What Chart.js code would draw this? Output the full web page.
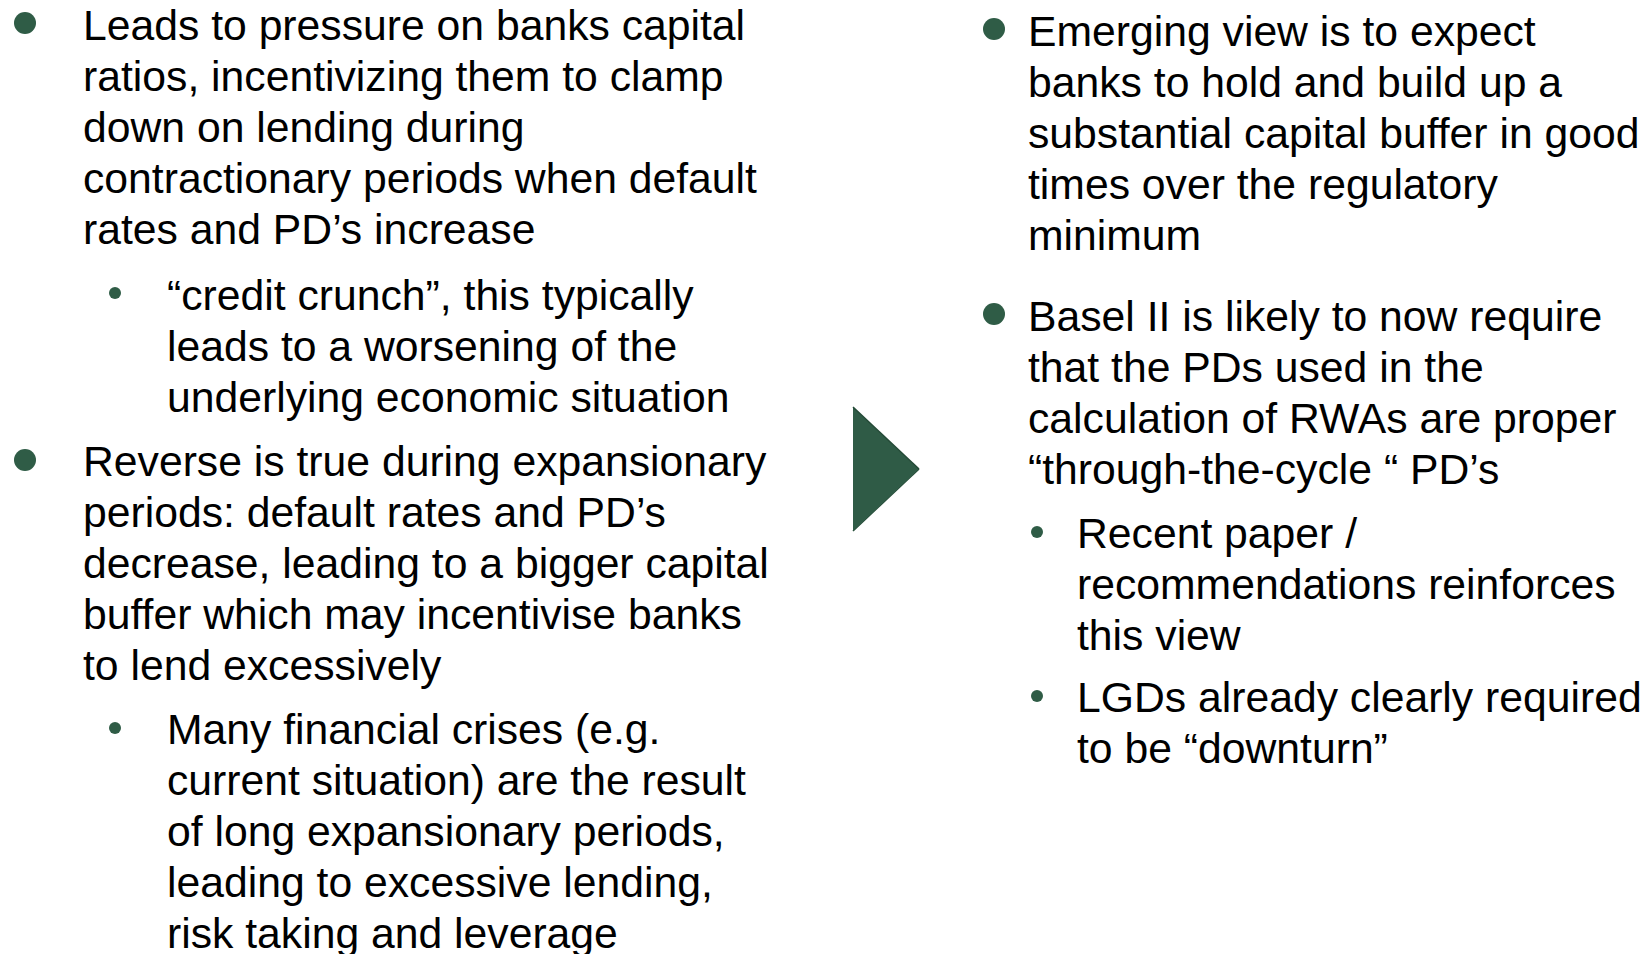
<!DOCTYPE html>
<html lang="en">
<head>
<meta charset="utf-8">
<title>Capital buffers and through-the-cycle PDs</title>
<script src="https://cdn.jsdelivr.net/npm/chart.js"></script>
<style>
  html, body { margin: 0; padding: 0; background: #ffffff; }
  body { width: 1648px; height: 954px; position: relative; overflow: hidden;
         font-family: "Liberation Sans", Arial, sans-serif; color: #000; }
  .p { position: absolute; font-size: 42.7px; line-height: 51px; white-space: nowrap; }
  .dot { position: absolute; border-radius: 50%; background: #2f5c46; }
  .big { width: 22px; height: 22px; }
  .small { width: 12px; height: 12px; }
  #arrow { position: absolute; left: 847px; top: 400px; }
</style>
</head>
<body>

<!-- left column -->
<div class="dot big" style="left:14px;top:12px"></div>
<div class="p" style="left:83px;top:0px">Leads to pressure on banks capital<br>ratios, incentivizing them to clamp<br>down on lending during<br>contractionary periods when default<br>rates and PD’s increase</div>

<div class="dot small" style="left:109px;top:287px"></div>
<div class="p" style="left:167px;top:270px">“credit crunch”, this typically<br>leads to a worsening of the<br>underlying economic situation</div>

<div class="dot big" style="left:14px;top:449px"></div>
<div class="p" style="left:83px;top:436px">Reverse is true during expansionary<br>periods: default rates and PD’s<br>decrease, leading to a bigger capital<br>buffer which may incentivise banks<br>to lend excessively</div>

<div class="dot small" style="left:109px;top:722px"></div>
<div class="p" style="left:167px;top:704px">Many financial crises (e.g.<br>current situation) are the result<br>of long expansionary periods,<br>leading to excessive lending,<br>risk taking and leverage</div>

<!-- arrow drawn by Chart.js -->
<canvas id="arrow" width="79" height="138"></canvas>

<!-- right column -->
<div class="dot big" style="left:983px;top:18px"></div>
<div class="p" style="left:1028px;top:6px">Emerging view is to expect<br>banks to hold and build up a<br>substantial capital buffer in good<br>times over the regulatory<br>minimum</div>

<div class="dot big" style="left:983px;top:303px"></div>
<div class="p" style="left:1028px;top:291px">Basel II is likely to now require<br>that the PDs used in the<br>calculation of RWAs are proper<br>“through-the-cycle “ PD’s</div>

<div class="dot small" style="left:1031px;top:526px"></div>
<div class="p" style="left:1077px;top:508px">Recent paper /<br>recommendations reinforces<br>this view</div>

<div class="dot small" style="left:1031px;top:690px"></div>
<div class="p" style="left:1077px;top:672px">LGDs already clearly required<br>to be “downturn”</div>

<script>
// arrow shape: two edges, area between them is filled
const arrowX = [0, 1];
const arrowTop = [1, 0.5];
const arrowBottom = [0, 0.5];

const fillColor = '#2f5b46';
const edgeColor = '#244a37';

const ctx = document.getElementById('arrow').getContext('2d');
new Chart(ctx, {
    type: 'line',
    data: {
        datasets: [
            {
                data: arrowX.map((x, i) => ({ x: x, y: arrowTop[i] })),
                borderColor: edgeColor,
                borderWidth: 1.5,
                backgroundColor: fillColor,
                fill: '+1',
                pointRadius: 0,
                tension: 0
            },
            {
                data: arrowX.map((x, i) => ({ x: x, y: arrowBottom[i] })),
                borderColor: edgeColor,
                borderWidth: 1.5,
                fill: false,
                pointRadius: 0,
                tension: 0
            }
        ]
    },
    options: {
        responsive: false,
        animation: false,
        layout: { padding: 0 },
        plugins: { legend: { display: false }, tooltip: { enabled: false } },
        scales: {
            x: { type: 'linear', min: -6 / 66, max: 1 + 7 / 66, display: false },
            y: { min: -7 / 124, max: 1 + 7 / 124, display: false }
        }
    }
});
</script>
</body>
</html>
